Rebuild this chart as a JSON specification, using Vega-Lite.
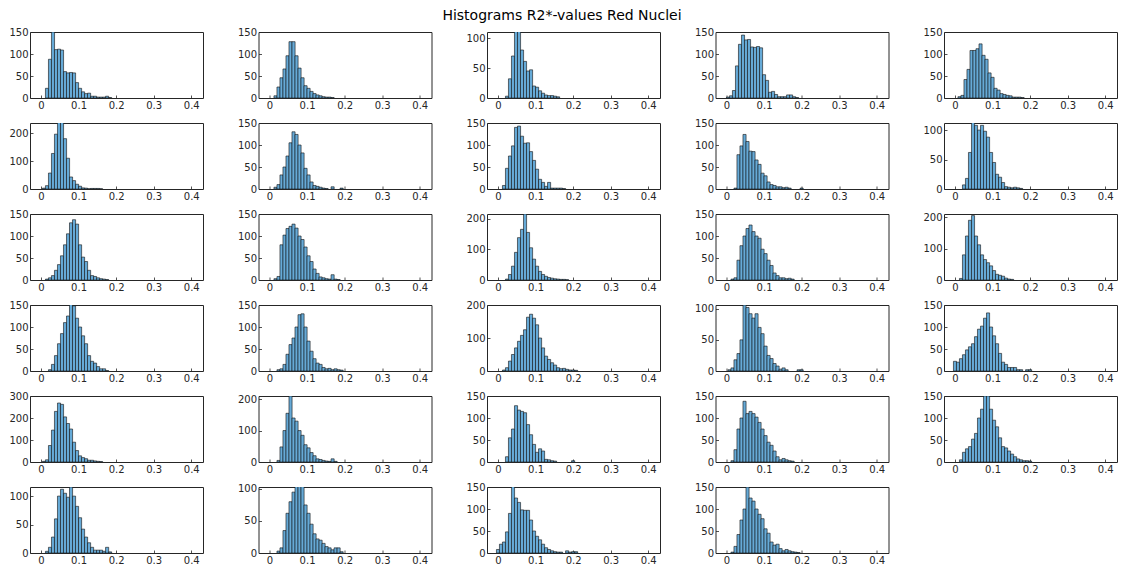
{
"$schema": "https://vega.github.io/schema/vega-lite/v6.json",
"background": "white",
"padding": {"left": 8, "top": 8, "right": 0, "bottom": 0},
"bounds": "flush",
"title": {"text": "Histograms R2*-values Red Nuclei", "font": "DejaVu Sans", "fontSize": 14, "fontWeight": "normal", "color": "#000000", "anchor": "middle", "dx": -1, "offset": 4},
"columns": 5,
"spacing": {"row": 25, "column": 55.5},
"data": {"values": [
{"p":1,"x":0.016,"c":22},{"p":1,"x":0.024,"c":88},{"p":1,"x":0.032,"c":150},{"p":1,"x":0.040,"c":110},{"p":1,"x":0.048,"c":111},{"p":1,"x":0.056,"c":109},{"p":1,"x":0.064,"c":60},{"p":1,"x":0.072,"c":57},{"p":1,"x":0.080,"c":58},{"p":1,"x":0.088,"c":57},{"p":1,"x":0.096,"c":35},{"p":1,"x":0.104,"c":22},{"p":1,"x":0.112,"c":14},{"p":1,"x":0.120,"c":10},{"p":1,"x":0.128,"c":11},{"p":1,"x":0.136,"c":4},{"p":1,"x":0.144,"c":4},{"p":1,"x":0.152,"c":2},{"p":1,"x":0.160,"c":2},{"p":1,"x":0.168,"c":2},{"p":1,"x":0.176,"c":4},{"p":1,"x":0.184,"c":1},
{"p":2,"x":0.016,"c":5},{"p":2,"x":0.024,"c":25},{"p":2,"x":0.032,"c":46},{"p":2,"x":0.040,"c":66},{"p":2,"x":0.048,"c":96},{"p":2,"x":0.056,"c":128},{"p":2,"x":0.064,"c":128},{"p":2,"x":0.072,"c":96},{"p":2,"x":0.080,"c":68},{"p":2,"x":0.088,"c":46},{"p":2,"x":0.096,"c":28},{"p":2,"x":0.104,"c":22},{"p":2,"x":0.112,"c":15},{"p":2,"x":0.120,"c":10},{"p":2,"x":0.128,"c":7},{"p":2,"x":0.136,"c":5},{"p":2,"x":0.144,"c":3},{"p":2,"x":0.152,"c":2},{"p":2,"x":0.160,"c":2},{"p":2,"x":0.168,"c":1},
{"p":3,"x":0.024,"c":3},{"p":3,"x":0.032,"c":32},{"p":3,"x":0.040,"c":70},{"p":3,"x":0.048,"c":112},{"p":3,"x":0.056,"c":112},{"p":3,"x":0.064,"c":80},{"p":3,"x":0.072,"c":61},{"p":3,"x":0.080,"c":45},{"p":3,"x":0.088,"c":47},{"p":3,"x":0.096,"c":20},{"p":3,"x":0.104,"c":18},{"p":3,"x":0.112,"c":12},{"p":3,"x":0.120,"c":8},{"p":3,"x":0.128,"c":5},{"p":3,"x":0.136,"c":4},{"p":3,"x":0.144,"c":4},{"p":3,"x":0.152,"c":3},{"p":3,"x":0.160,"c":2},
{"p":4,"x":0.004,"c":2},{"p":4,"x":0.012,"c":5},{"p":4,"x":0.020,"c":17},{"p":4,"x":0.028,"c":73},{"p":4,"x":0.036,"c":122},{"p":4,"x":0.044,"c":143},{"p":4,"x":0.052,"c":132},{"p":4,"x":0.060,"c":133},{"p":4,"x":0.068,"c":116},{"p":4,"x":0.076,"c":115},{"p":4,"x":0.084,"c":117},{"p":4,"x":0.092,"c":114},{"p":4,"x":0.100,"c":53},{"p":4,"x":0.108,"c":40},{"p":4,"x":0.116,"c":13},{"p":4,"x":0.124,"c":15},{"p":4,"x":0.132,"c":8},{"p":4,"x":0.140,"c":3},{"p":4,"x":0.148,"c":3},{"p":4,"x":0.156,"c":3},{"p":4,"x":0.164,"c":7},{"p":4,"x":0.172,"c":7},{"p":4,"x":0.180,"c":3},{"p":4,"x":0.188,"c":1},
{"p":5,"x":0.012,"c":3},{"p":5,"x":0.020,"c":6},{"p":5,"x":0.028,"c":42},{"p":5,"x":0.036,"c":65},{"p":5,"x":0.044,"c":108},{"p":5,"x":0.052,"c":108},{"p":5,"x":0.060,"c":112},{"p":5,"x":0.068,"c":123},{"p":5,"x":0.076,"c":97},{"p":5,"x":0.084,"c":88},{"p":5,"x":0.092,"c":57},{"p":5,"x":0.100,"c":47},{"p":5,"x":0.108,"c":22},{"p":5,"x":0.116,"c":18},{"p":5,"x":0.124,"c":10},{"p":5,"x":0.132,"c":8},{"p":5,"x":0.140,"c":6},{"p":5,"x":0.148,"c":5},{"p":5,"x":0.156,"c":2},{"p":5,"x":0.164,"c":2},{"p":5,"x":0.172,"c":2},{"p":5,"x":0.180,"c":1},
{"p":6,"x":0.008,"c":3},{"p":6,"x":0.016,"c":12},{"p":6,"x":0.024,"c":57},{"p":6,"x":0.032,"c":127},{"p":6,"x":0.040,"c":196},{"p":6,"x":0.048,"c":240},{"p":6,"x":0.056,"c":240},{"p":6,"x":0.064,"c":180},{"p":6,"x":0.072,"c":110},{"p":6,"x":0.080,"c":43},{"p":6,"x":0.088,"c":30},{"p":6,"x":0.096,"c":17},{"p":6,"x":0.104,"c":10},{"p":6,"x":0.112,"c":4},{"p":6,"x":0.120,"c":3},{"p":6,"x":0.128,"c":1},{"p":6,"x":0.136,"c":2},{"p":6,"x":0.144,"c":2},{"p":6,"x":0.152,"c":2},{"p":6,"x":0.160,"c":1},
{"p":7,"x":0.016,"c":4},{"p":7,"x":0.024,"c":10},{"p":7,"x":0.032,"c":32},{"p":7,"x":0.040,"c":50},{"p":7,"x":0.048,"c":75},{"p":7,"x":0.056,"c":105},{"p":7,"x":0.064,"c":130},{"p":7,"x":0.072,"c":124},{"p":7,"x":0.080,"c":100},{"p":7,"x":0.088,"c":82},{"p":7,"x":0.096,"c":47},{"p":7,"x":0.104,"c":32},{"p":7,"x":0.112,"c":16},{"p":7,"x":0.120,"c":8},{"p":7,"x":0.128,"c":6},{"p":7,"x":0.136,"c":4},{"p":7,"x":0.144,"c":2},{"p":7,"x":0.152,"c":1},{"p":7,"x":0.168,"c":5},{"p":7,"x":0.192,"c":2},
{"p":8,"x":0.016,"c":8},{"p":8,"x":0.024,"c":47},{"p":8,"x":0.032,"c":75},{"p":8,"x":0.040,"c":98},{"p":8,"x":0.048,"c":140},{"p":8,"x":0.056,"c":143},{"p":8,"x":0.064,"c":120},{"p":8,"x":0.072,"c":104},{"p":8,"x":0.080,"c":105},{"p":8,"x":0.088,"c":85},{"p":8,"x":0.096,"c":65},{"p":8,"x":0.104,"c":45},{"p":8,"x":0.112,"c":22},{"p":8,"x":0.120,"c":15},{"p":8,"x":0.128,"c":6},{"p":8,"x":0.136,"c":15},{"p":8,"x":0.144,"c":2},{"p":8,"x":0.152,"c":2},{"p":8,"x":0.160,"c":2},{"p":8,"x":0.168,"c":2},{"p":8,"x":0.176,"c":1},
{"p":9,"x":0.024,"c":2},{"p":9,"x":0.032,"c":78},{"p":9,"x":0.040,"c":98},{"p":9,"x":0.048,"c":124},{"p":9,"x":0.056,"c":108},{"p":9,"x":0.064,"c":86},{"p":9,"x":0.072,"c":85},{"p":9,"x":0.080,"c":66},{"p":9,"x":0.088,"c":56},{"p":9,"x":0.096,"c":36},{"p":9,"x":0.104,"c":30},{"p":9,"x":0.112,"c":16},{"p":9,"x":0.120,"c":10},{"p":9,"x":0.128,"c":8},{"p":9,"x":0.136,"c":5},{"p":9,"x":0.144,"c":5},{"p":9,"x":0.152,"c":3},{"p":9,"x":0.160,"c":4},{"p":9,"x":0.168,"c":2},{"p":9,"x":0.200,"c":2},
{"p":10,"x":0.024,"c":7},{"p":10,"x":0.032,"c":18},{"p":10,"x":0.040,"c":62},{"p":10,"x":0.048,"c":113},{"p":10,"x":0.056,"c":108},{"p":10,"x":0.064,"c":100},{"p":10,"x":0.072,"c":108},{"p":10,"x":0.080,"c":98},{"p":10,"x":0.088,"c":88},{"p":10,"x":0.096,"c":62},{"p":10,"x":0.104,"c":45},{"p":10,"x":0.112,"c":25},{"p":10,"x":0.120,"c":20},{"p":10,"x":0.128,"c":11},{"p":10,"x":0.136,"c":4},{"p":10,"x":0.144,"c":3},{"p":10,"x":0.152,"c":2},{"p":10,"x":0.160,"c":3},{"p":10,"x":0.168,"c":2},{"p":10,"x":0.176,"c":1},
{"p":11,"x":0.016,"c":2},{"p":11,"x":0.024,"c":5},{"p":11,"x":0.032,"c":10},{"p":11,"x":0.040,"c":22},{"p":11,"x":0.048,"c":35},{"p":11,"x":0.056,"c":55},{"p":11,"x":0.064,"c":80},{"p":11,"x":0.072,"c":105},{"p":11,"x":0.080,"c":130},{"p":11,"x":0.088,"c":137},{"p":11,"x":0.096,"c":127},{"p":11,"x":0.104,"c":80},{"p":11,"x":0.112,"c":52},{"p":11,"x":0.120,"c":42},{"p":11,"x":0.128,"c":22},{"p":11,"x":0.136,"c":10},{"p":11,"x":0.144,"c":8},{"p":11,"x":0.152,"c":5},{"p":11,"x":0.160,"c":3},{"p":11,"x":0.168,"c":2},{"p":11,"x":0.176,"c":1},
{"p":12,"x":0.016,"c":3},{"p":12,"x":0.024,"c":8},{"p":12,"x":0.032,"c":80},{"p":12,"x":0.040,"c":102},{"p":12,"x":0.048,"c":117},{"p":12,"x":0.056,"c":122},{"p":12,"x":0.064,"c":127},{"p":12,"x":0.072,"c":118},{"p":12,"x":0.080,"c":100},{"p":12,"x":0.088,"c":92},{"p":12,"x":0.096,"c":75},{"p":12,"x":0.104,"c":55},{"p":12,"x":0.112,"c":42},{"p":12,"x":0.120,"c":25},{"p":12,"x":0.128,"c":15},{"p":12,"x":0.136,"c":7},{"p":12,"x":0.144,"c":5},{"p":12,"x":0.152,"c":3},{"p":12,"x":0.160,"c":2},{"p":12,"x":0.168,"c":12},{"p":12,"x":0.176,"c":2},{"p":12,"x":0.184,"c":1},
{"p":13,"x":0.024,"c":3},{"p":13,"x":0.032,"c":18},{"p":13,"x":0.040,"c":45},{"p":13,"x":0.048,"c":90},{"p":13,"x":0.056,"c":138},{"p":13,"x":0.064,"c":165},{"p":13,"x":0.072,"c":215},{"p":13,"x":0.080,"c":155},{"p":13,"x":0.088,"c":105},{"p":13,"x":0.096,"c":68},{"p":13,"x":0.104,"c":45},{"p":13,"x":0.112,"c":28},{"p":13,"x":0.120,"c":18},{"p":13,"x":0.128,"c":12},{"p":13,"x":0.136,"c":8},{"p":13,"x":0.144,"c":6},{"p":13,"x":0.152,"c":4},{"p":13,"x":0.160,"c":3},{"p":13,"x":0.168,"c":2},{"p":13,"x":0.176,"c":2},{"p":13,"x":0.184,"c":1},
{"p":14,"x":0.016,"c":2},{"p":14,"x":0.024,"c":5},{"p":14,"x":0.032,"c":45},{"p":14,"x":0.040,"c":78},{"p":14,"x":0.048,"c":100},{"p":14,"x":0.056,"c":117},{"p":14,"x":0.064,"c":125},{"p":14,"x":0.072,"c":110},{"p":14,"x":0.080,"c":100},{"p":14,"x":0.088,"c":95},{"p":14,"x":0.096,"c":70},{"p":14,"x":0.104,"c":60},{"p":14,"x":0.112,"c":45},{"p":14,"x":0.120,"c":33},{"p":14,"x":0.128,"c":16},{"p":14,"x":0.136,"c":10},{"p":14,"x":0.144,"c":5},{"p":14,"x":0.152,"c":5},{"p":14,"x":0.160,"c":3},{"p":14,"x":0.168,"c":4},{"p":14,"x":0.176,"c":2},
{"p":15,"x":0.016,"c":5},{"p":15,"x":0.024,"c":80},{"p":15,"x":0.032,"c":140},{"p":15,"x":0.040,"c":190},{"p":15,"x":0.048,"c":205},{"p":15,"x":0.056,"c":140},{"p":15,"x":0.064,"c":112},{"p":15,"x":0.072,"c":80},{"p":15,"x":0.080,"c":65},{"p":15,"x":0.088,"c":55},{"p":15,"x":0.096,"c":45},{"p":15,"x":0.104,"c":30},{"p":15,"x":0.112,"c":18},{"p":15,"x":0.120,"c":15},{"p":15,"x":0.128,"c":12},{"p":15,"x":0.136,"c":6},{"p":15,"x":0.144,"c":3},{"p":15,"x":0.152,"c":2},
{"p":16,"x":0.024,"c":3},{"p":16,"x":0.032,"c":15},{"p":16,"x":0.040,"c":35},{"p":16,"x":0.048,"c":62},{"p":16,"x":0.056,"c":85},{"p":16,"x":0.064,"c":110},{"p":16,"x":0.072,"c":125},{"p":16,"x":0.080,"c":152},{"p":16,"x":0.088,"c":148},{"p":16,"x":0.096,"c":120},{"p":16,"x":0.104,"c":100},{"p":16,"x":0.112,"c":80},{"p":16,"x":0.120,"c":62},{"p":16,"x":0.128,"c":35},{"p":16,"x":0.136,"c":22},{"p":16,"x":0.144,"c":18},{"p":16,"x":0.152,"c":10},{"p":16,"x":0.160,"c":5},{"p":16,"x":0.168,"c":5},{"p":16,"x":0.176,"c":1},
{"p":17,"x":0.024,"c":3},{"p":17,"x":0.032,"c":5},{"p":17,"x":0.040,"c":15},{"p":17,"x":0.048,"c":38},{"p":17,"x":0.056,"c":60},{"p":17,"x":0.064,"c":75},{"p":17,"x":0.072,"c":100},{"p":17,"x":0.080,"c":128},{"p":17,"x":0.088,"c":130},{"p":17,"x":0.096,"c":100},{"p":17,"x":0.104,"c":68},{"p":17,"x":0.112,"c":45},{"p":17,"x":0.120,"c":28},{"p":17,"x":0.128,"c":18},{"p":17,"x":0.136,"c":15},{"p":17,"x":0.144,"c":8},{"p":17,"x":0.152,"c":5},{"p":17,"x":0.160,"c":6},{"p":17,"x":0.168,"c":3},{"p":17,"x":0.176,"c":5},{"p":17,"x":0.184,"c":3},{"p":17,"x":0.192,"c":2},
{"p":18,"x":0.016,"c":3},{"p":18,"x":0.024,"c":10},{"p":18,"x":0.032,"c":30},{"p":18,"x":0.040,"c":50},{"p":18,"x":0.048,"c":70},{"p":18,"x":0.056,"c":90},{"p":18,"x":0.064,"c":108},{"p":18,"x":0.072,"c":125},{"p":18,"x":0.080,"c":163},{"p":18,"x":0.088,"c":172},{"p":18,"x":0.096,"c":160},{"p":18,"x":0.104,"c":140},{"p":18,"x":0.112,"c":100},{"p":18,"x":0.120,"c":70},{"p":18,"x":0.128,"c":45},{"p":18,"x":0.136,"c":35},{"p":18,"x":0.144,"c":25},{"p":18,"x":0.152,"c":18},{"p":18,"x":0.160,"c":10},{"p":18,"x":0.168,"c":7},{"p":18,"x":0.176,"c":8},{"p":18,"x":0.184,"c":5},{"p":18,"x":0.192,"c":3},{"p":18,"x":0.200,"c":3},{"p":18,"x":0.208,"c":2},
{"p":19,"x":0.008,"c":2},{"p":19,"x":0.016,"c":5},{"p":19,"x":0.024,"c":18},{"p":19,"x":0.032,"c":28},{"p":19,"x":0.040,"c":50},{"p":19,"x":0.048,"c":106},{"p":19,"x":0.056,"c":102},{"p":19,"x":0.064,"c":92},{"p":19,"x":0.072,"c":85},{"p":19,"x":0.080,"c":92},{"p":19,"x":0.088,"c":70},{"p":19,"x":0.096,"c":60},{"p":19,"x":0.104,"c":40},{"p":19,"x":0.112,"c":25},{"p":19,"x":0.120,"c":20},{"p":19,"x":0.128,"c":12},{"p":19,"x":0.136,"c":8},{"p":19,"x":0.144,"c":3},{"p":19,"x":0.152,"c":5},{"p":19,"x":0.160,"c":2},{"p":19,"x":0.192,"c":2},{"p":19,"x":0.200,"c":2},
{"p":20,"x":0.000,"c":22},{"p":20,"x":0.008,"c":20},{"p":20,"x":0.016,"c":28},{"p":20,"x":0.024,"c":37},{"p":20,"x":0.032,"c":48},{"p":20,"x":0.040,"c":55},{"p":20,"x":0.048,"c":62},{"p":20,"x":0.056,"c":78},{"p":20,"x":0.064,"c":95},{"p":20,"x":0.072,"c":102},{"p":20,"x":0.080,"c":120},{"p":20,"x":0.088,"c":132},{"p":20,"x":0.096,"c":100},{"p":20,"x":0.104,"c":80},{"p":20,"x":0.112,"c":62},{"p":20,"x":0.120,"c":40},{"p":20,"x":0.128,"c":20},{"p":20,"x":0.136,"c":15},{"p":20,"x":0.144,"c":8},{"p":20,"x":0.152,"c":8},{"p":20,"x":0.160,"c":8},{"p":20,"x":0.168,"c":3},{"p":20,"x":0.176,"c":3},{"p":20,"x":0.192,"c":3},{"p":20,"x":0.200,"c":3},
{"p":21,"x":0.008,"c":3},{"p":21,"x":0.016,"c":10},{"p":21,"x":0.024,"c":75},{"p":21,"x":0.032,"c":145},{"p":21,"x":0.040,"c":230},{"p":21,"x":0.048,"c":268},{"p":21,"x":0.056,"c":262},{"p":21,"x":0.064,"c":205},{"p":21,"x":0.072,"c":175},{"p":21,"x":0.080,"c":150},{"p":21,"x":0.088,"c":90},{"p":21,"x":0.096,"c":52},{"p":21,"x":0.104,"c":28},{"p":21,"x":0.112,"c":20},{"p":21,"x":0.120,"c":15},{"p":21,"x":0.128,"c":8},{"p":21,"x":0.136,"c":8},{"p":21,"x":0.144,"c":5},{"p":21,"x":0.152,"c":3},{"p":21,"x":0.160,"c":2},
{"p":22,"x":0.024,"c":5},{"p":22,"x":0.032,"c":48},{"p":22,"x":0.040,"c":100},{"p":22,"x":0.048,"c":155},{"p":22,"x":0.056,"c":210},{"p":22,"x":0.064,"c":140},{"p":22,"x":0.072,"c":130},{"p":22,"x":0.080,"c":100},{"p":22,"x":0.088,"c":85},{"p":22,"x":0.096,"c":55},{"p":22,"x":0.104,"c":45},{"p":22,"x":0.112,"c":30},{"p":22,"x":0.120,"c":20},{"p":22,"x":0.128,"c":10},{"p":22,"x":0.136,"c":8},{"p":22,"x":0.144,"c":5},{"p":22,"x":0.152,"c":3},{"p":22,"x":0.160,"c":2},{"p":22,"x":0.168,"c":10},{"p":22,"x":0.176,"c":2},
{"p":23,"x":0.024,"c":12},{"p":23,"x":0.032,"c":55},{"p":23,"x":0.040,"c":75},{"p":23,"x":0.048,"c":128},{"p":23,"x":0.056,"c":118},{"p":23,"x":0.064,"c":115},{"p":23,"x":0.072,"c":112},{"p":23,"x":0.080,"c":85},{"p":23,"x":0.088,"c":62},{"p":23,"x":0.096,"c":40},{"p":23,"x":0.104,"c":22},{"p":23,"x":0.112,"c":30},{"p":23,"x":0.120,"c":25},{"p":23,"x":0.128,"c":6},{"p":23,"x":0.136,"c":5},{"p":23,"x":0.144,"c":3},{"p":23,"x":0.152,"c":2},{"p":23,"x":0.200,"c":3},
{"p":24,"x":0.016,"c":3},{"p":24,"x":0.024,"c":28},{"p":24,"x":0.032,"c":75},{"p":24,"x":0.040,"c":100},{"p":24,"x":0.048,"c":138},{"p":24,"x":0.056,"c":110},{"p":24,"x":0.064,"c":115},{"p":24,"x":0.072,"c":110},{"p":24,"x":0.080,"c":102},{"p":24,"x":0.088,"c":90},{"p":24,"x":0.096,"c":75},{"p":24,"x":0.104,"c":60},{"p":24,"x":0.112,"c":45},{"p":24,"x":0.120,"c":38},{"p":24,"x":0.128,"c":25},{"p":24,"x":0.136,"c":12},{"p":24,"x":0.144,"c":5},{"p":24,"x":0.152,"c":8},{"p":24,"x":0.160,"c":5},{"p":24,"x":0.168,"c":3},{"p":24,"x":0.176,"c":2},
{"p":25,"x":0.016,"c":5},{"p":25,"x":0.024,"c":22},{"p":25,"x":0.032,"c":30},{"p":25,"x":0.040,"c":35},{"p":25,"x":0.048,"c":52},{"p":25,"x":0.056,"c":65},{"p":25,"x":0.064,"c":100},{"p":25,"x":0.072,"c":120},{"p":25,"x":0.080,"c":150},{"p":25,"x":0.088,"c":150},{"p":25,"x":0.096,"c":120},{"p":25,"x":0.104,"c":95},{"p":25,"x":0.112,"c":80},{"p":25,"x":0.120,"c":55},{"p":25,"x":0.128,"c":35},{"p":25,"x":0.136,"c":32},{"p":25,"x":0.144,"c":25},{"p":25,"x":0.152,"c":18},{"p":25,"x":0.160,"c":12},{"p":25,"x":0.168,"c":7},{"p":25,"x":0.176,"c":5},{"p":25,"x":0.184,"c":3},{"p":25,"x":0.192,"c":3},{"p":25,"x":0.200,"c":2},
{"p":26,"x":0.016,"c":3},{"p":26,"x":0.024,"c":10},{"p":26,"x":0.032,"c":28},{"p":26,"x":0.040,"c":60},{"p":26,"x":0.048,"c":100},{"p":26,"x":0.056,"c":112},{"p":26,"x":0.064,"c":105},{"p":26,"x":0.072,"c":98},{"p":26,"x":0.080,"c":116},{"p":26,"x":0.088,"c":100},{"p":26,"x":0.096,"c":82},{"p":26,"x":0.104,"c":62},{"p":26,"x":0.112,"c":42},{"p":26,"x":0.120,"c":28},{"p":26,"x":0.128,"c":18},{"p":26,"x":0.136,"c":10},{"p":26,"x":0.144,"c":5},{"p":26,"x":0.152,"c":5},{"p":26,"x":0.160,"c":5},{"p":26,"x":0.168,"c":3},{"p":26,"x":0.176,"c":10},{"p":26,"x":0.184,"c":2},
{"p":27,"x":0.024,"c":3},{"p":27,"x":0.032,"c":8},{"p":27,"x":0.040,"c":35},{"p":27,"x":0.048,"c":62},{"p":27,"x":0.056,"c":80},{"p":27,"x":0.064,"c":95},{"p":27,"x":0.072,"c":104},{"p":27,"x":0.080,"c":104},{"p":27,"x":0.088,"c":104},{"p":27,"x":0.096,"c":75},{"p":27,"x":0.104,"c":62},{"p":27,"x":0.112,"c":45},{"p":27,"x":0.120,"c":30},{"p":27,"x":0.128,"c":22},{"p":27,"x":0.136,"c":20},{"p":27,"x":0.144,"c":15},{"p":27,"x":0.152,"c":10},{"p":27,"x":0.160,"c":8},{"p":27,"x":0.168,"c":5},{"p":27,"x":0.176,"c":8},{"p":27,"x":0.184,"c":8},{"p":27,"x":0.192,"c":2},
{"p":28,"x":0.000,"c":8},{"p":28,"x":0.008,"c":20},{"p":28,"x":0.016,"c":25},{"p":28,"x":0.024,"c":48},{"p":28,"x":0.032,"c":90},{"p":28,"x":0.040,"c":152},{"p":28,"x":0.048,"c":125},{"p":28,"x":0.056,"c":115},{"p":28,"x":0.064,"c":98},{"p":28,"x":0.072,"c":97},{"p":28,"x":0.080,"c":97},{"p":28,"x":0.088,"c":75},{"p":28,"x":0.096,"c":50},{"p":28,"x":0.104,"c":38},{"p":28,"x":0.112,"c":30},{"p":28,"x":0.120,"c":20},{"p":28,"x":0.128,"c":12},{"p":28,"x":0.136,"c":8},{"p":28,"x":0.144,"c":5},{"p":28,"x":0.152,"c":3},{"p":28,"x":0.160,"c":2},{"p":28,"x":0.168,"c":2},{"p":28,"x":0.184,"c":5},{"p":28,"x":0.192,"c":2},{"p":28,"x":0.200,"c":3},{"p":28,"x":0.208,"c":3},
{"p":29,"x":0.016,"c":2},{"p":29,"x":0.024,"c":15},{"p":29,"x":0.032,"c":42},{"p":29,"x":0.040,"c":75},{"p":29,"x":0.048,"c":100},{"p":29,"x":0.056,"c":150},{"p":29,"x":0.064,"c":125},{"p":29,"x":0.072,"c":118},{"p":29,"x":0.080,"c":100},{"p":29,"x":0.088,"c":88},{"p":29,"x":0.096,"c":78},{"p":29,"x":0.104,"c":55},{"p":29,"x":0.112,"c":45},{"p":29,"x":0.120,"c":25},{"p":29,"x":0.128,"c":18},{"p":29,"x":0.136,"c":20},{"p":29,"x":0.144,"c":10},{"p":29,"x":0.152,"c":5},{"p":29,"x":0.160,"c":8},{"p":29,"x":0.168,"c":5},{"p":29,"x":0.176,"c":3},{"p":29,"x":0.184,"c":2},{"p":29,"x":0.192,"c":1}
]},
"concat": [
{"transform":[{"filter":"datum.p==1"}],"mark":{"type":"bar","clip":true},"encoding":{"x":{"field":"x","type":"quantitative","title":null,"scale":{"domain":[-0.021,0.423],"nice":false},"axis":{"values":[0,0.1,0.2,0.3,0.4],"format":"~g"}},"y":{"field":"c","type":"quantitative","title":null,"scale":{"domain":[0,150],"nice":false},"axis":{"values":[0,50,100,150]}}}},
{"transform":[{"filter":"datum.p==2"}],"mark":{"type":"bar","clip":true},"encoding":{"x":{"field":"x","type":"quantitative","title":null,"scale":{"domain":[-0.021,0.423],"nice":false},"axis":{"values":[0,0.1,0.2,0.3,0.4],"format":"~g"}},"y":{"field":"c","type":"quantitative","title":null,"scale":{"domain":[0,150],"nice":false},"axis":{"values":[0,50,100,150]}}}},
{"transform":[{"filter":"datum.p==3"}],"mark":{"type":"bar","clip":true},"encoding":{"x":{"field":"x","type":"quantitative","title":null,"scale":{"domain":[-0.021,0.423],"nice":false},"axis":{"values":[0,0.1,0.2,0.3,0.4],"format":"~g"}},"y":{"field":"c","type":"quantitative","title":null,"scale":{"domain":[0,110],"nice":false},"axis":{"values":[0,50,100]}}}},
{"transform":[{"filter":"datum.p==4"}],"mark":{"type":"bar","clip":true},"encoding":{"x":{"field":"x","type":"quantitative","title":null,"scale":{"domain":[-0.021,0.423],"nice":false},"axis":{"values":[0,0.1,0.2,0.3,0.4],"format":"~g"}},"y":{"field":"c","type":"quantitative","title":null,"scale":{"domain":[0,150],"nice":false},"axis":{"values":[0,50,100,150]}}}},
{"transform":[{"filter":"datum.p==5"}],"mark":{"type":"bar","clip":true},"encoding":{"x":{"field":"x","type":"quantitative","title":null,"scale":{"domain":[-0.021,0.423],"nice":false},"axis":{"values":[0,0.1,0.2,0.3,0.4],"format":"~g"}},"y":{"field":"c","type":"quantitative","title":null,"scale":{"domain":[0,150],"nice":false},"axis":{"values":[0,50,100,150]}}}},
{"transform":[{"filter":"datum.p==6"}],"mark":{"type":"bar","clip":true},"encoding":{"x":{"field":"x","type":"quantitative","title":null,"scale":{"domain":[-0.021,0.423],"nice":false},"axis":{"values":[0,0.1,0.2,0.3,0.4],"format":"~g"}},"y":{"field":"c","type":"quantitative","title":null,"scale":{"domain":[0,236],"nice":false},"axis":{"values":[0,100,200]}}}},
{"transform":[{"filter":"datum.p==7"}],"mark":{"type":"bar","clip":true},"encoding":{"x":{"field":"x","type":"quantitative","title":null,"scale":{"domain":[-0.021,0.423],"nice":false},"axis":{"values":[0,0.1,0.2,0.3,0.4],"format":"~g"}},"y":{"field":"c","type":"quantitative","title":null,"scale":{"domain":[0,150],"nice":false},"axis":{"values":[0,50,100,150]}}}},
{"transform":[{"filter":"datum.p==8"}],"mark":{"type":"bar","clip":true},"encoding":{"x":{"field":"x","type":"quantitative","title":null,"scale":{"domain":[-0.021,0.423],"nice":false},"axis":{"values":[0,0.1,0.2,0.3,0.4],"format":"~g"}},"y":{"field":"c","type":"quantitative","title":null,"scale":{"domain":[0,150],"nice":false},"axis":{"values":[0,50,100,150]}}}},
{"transform":[{"filter":"datum.p==9"}],"mark":{"type":"bar","clip":true},"encoding":{"x":{"field":"x","type":"quantitative","title":null,"scale":{"domain":[-0.021,0.423],"nice":false},"axis":{"values":[0,0.1,0.2,0.3,0.4],"format":"~g"}},"y":{"field":"c","type":"quantitative","title":null,"scale":{"domain":[0,150],"nice":false},"axis":{"values":[0,50,100,150]}}}},
{"transform":[{"filter":"datum.p==10"}],"mark":{"type":"bar","clip":true},"encoding":{"x":{"field":"x","type":"quantitative","title":null,"scale":{"domain":[-0.021,0.423],"nice":false},"axis":{"values":[0,0.1,0.2,0.3,0.4],"format":"~g"}},"y":{"field":"c","type":"quantitative","title":null,"scale":{"domain":[0,112],"nice":false},"axis":{"values":[0,50,100]}}}},
{"transform":[{"filter":"datum.p==11"}],"mark":{"type":"bar","clip":true},"encoding":{"x":{"field":"x","type":"quantitative","title":null,"scale":{"domain":[-0.021,0.423],"nice":false},"axis":{"values":[0,0.1,0.2,0.3,0.4],"format":"~g"}},"y":{"field":"c","type":"quantitative","title":null,"scale":{"domain":[0,150],"nice":false},"axis":{"values":[0,50,100,150]}}}},
{"transform":[{"filter":"datum.p==12"}],"mark":{"type":"bar","clip":true},"encoding":{"x":{"field":"x","type":"quantitative","title":null,"scale":{"domain":[-0.021,0.423],"nice":false},"axis":{"values":[0,0.1,0.2,0.3,0.4],"format":"~g"}},"y":{"field":"c","type":"quantitative","title":null,"scale":{"domain":[0,150],"nice":false},"axis":{"values":[0,50,100,150]}}}},
{"transform":[{"filter":"datum.p==13"}],"mark":{"type":"bar","clip":true},"encoding":{"x":{"field":"x","type":"quantitative","title":null,"scale":{"domain":[-0.021,0.423],"nice":false},"axis":{"values":[0,0.1,0.2,0.3,0.4],"format":"~g"}},"y":{"field":"c","type":"quantitative","title":null,"scale":{"domain":[0,215],"nice":false},"axis":{"values":[0,100,200]}}}},
{"transform":[{"filter":"datum.p==14"}],"mark":{"type":"bar","clip":true},"encoding":{"x":{"field":"x","type":"quantitative","title":null,"scale":{"domain":[-0.021,0.423],"nice":false},"axis":{"values":[0,0.1,0.2,0.3,0.4],"format":"~g"}},"y":{"field":"c","type":"quantitative","title":null,"scale":{"domain":[0,150],"nice":false},"axis":{"values":[0,50,100,150]}}}},
{"transform":[{"filter":"datum.p==15"}],"mark":{"type":"bar","clip":true},"encoding":{"x":{"field":"x","type":"quantitative","title":null,"scale":{"domain":[-0.021,0.423],"nice":false},"axis":{"values":[0,0.1,0.2,0.3,0.4],"format":"~g"}},"y":{"field":"c","type":"quantitative","title":null,"scale":{"domain":[0,210],"nice":false},"axis":{"values":[0,100,200]}}}},
{"transform":[{"filter":"datum.p==16"}],"mark":{"type":"bar","clip":true},"encoding":{"x":{"field":"x","type":"quantitative","title":null,"scale":{"domain":[-0.021,0.423],"nice":false},"axis":{"values":[0,0.1,0.2,0.3,0.4],"format":"~g"}},"y":{"field":"c","type":"quantitative","title":null,"scale":{"domain":[0,150],"nice":false},"axis":{"values":[0,50,100,150]}}}},
{"transform":[{"filter":"datum.p==17"}],"mark":{"type":"bar","clip":true},"encoding":{"x":{"field":"x","type":"quantitative","title":null,"scale":{"domain":[-0.021,0.423],"nice":false},"axis":{"values":[0,0.1,0.2,0.3,0.4],"format":"~g"}},"y":{"field":"c","type":"quantitative","title":null,"scale":{"domain":[0,150],"nice":false},"axis":{"values":[0,50,100,150]}}}},
{"transform":[{"filter":"datum.p==18"}],"mark":{"type":"bar","clip":true},"encoding":{"x":{"field":"x","type":"quantitative","title":null,"scale":{"domain":[-0.021,0.423],"nice":false},"axis":{"values":[0,0.1,0.2,0.3,0.4],"format":"~g"}},"y":{"field":"c","type":"quantitative","title":null,"scale":{"domain":[0,200],"nice":false},"axis":{"values":[0,100,200]}}}},
{"transform":[{"filter":"datum.p==19"}],"mark":{"type":"bar","clip":true},"encoding":{"x":{"field":"x","type":"quantitative","title":null,"scale":{"domain":[-0.021,0.423],"nice":false},"axis":{"values":[0,0.1,0.2,0.3,0.4],"format":"~g"}},"y":{"field":"c","type":"quantitative","title":null,"scale":{"domain":[0,106],"nice":false},"axis":{"values":[0,50,100]}}}},
{"transform":[{"filter":"datum.p==20"}],"mark":{"type":"bar","clip":true},"encoding":{"x":{"field":"x","type":"quantitative","title":null,"scale":{"domain":[-0.021,0.423],"nice":false},"axis":{"values":[0,0.1,0.2,0.3,0.4],"format":"~g"}},"y":{"field":"c","type":"quantitative","title":null,"scale":{"domain":[0,150],"nice":false},"axis":{"values":[0,50,100,150]}}}},
{"transform":[{"filter":"datum.p==21"}],"mark":{"type":"bar","clip":true},"encoding":{"x":{"field":"x","type":"quantitative","title":null,"scale":{"domain":[-0.021,0.423],"nice":false},"axis":{"values":[0,0.1,0.2,0.3,0.4],"format":"~g"}},"y":{"field":"c","type":"quantitative","title":null,"scale":{"domain":[0,300],"nice":false},"axis":{"values":[0,100,200,300]}}}},
{"transform":[{"filter":"datum.p==22"}],"mark":{"type":"bar","clip":true},"encoding":{"x":{"field":"x","type":"quantitative","title":null,"scale":{"domain":[-0.021,0.423],"nice":false},"axis":{"values":[0,0.1,0.2,0.3,0.4],"format":"~g"}},"y":{"field":"c","type":"quantitative","title":null,"scale":{"domain":[0,210],"nice":false},"axis":{"values":[0,100,200]}}}},
{"transform":[{"filter":"datum.p==23"}],"mark":{"type":"bar","clip":true},"encoding":{"x":{"field":"x","type":"quantitative","title":null,"scale":{"domain":[-0.021,0.423],"nice":false},"axis":{"values":[0,0.1,0.2,0.3,0.4],"format":"~g"}},"y":{"field":"c","type":"quantitative","title":null,"scale":{"domain":[0,150],"nice":false},"axis":{"values":[0,50,100,150]}}}},
{"transform":[{"filter":"datum.p==24"}],"mark":{"type":"bar","clip":true},"encoding":{"x":{"field":"x","type":"quantitative","title":null,"scale":{"domain":[-0.021,0.423],"nice":false},"axis":{"values":[0,0.1,0.2,0.3,0.4],"format":"~g"}},"y":{"field":"c","type":"quantitative","title":null,"scale":{"domain":[0,150],"nice":false},"axis":{"values":[0,50,100,150]}}}},
{"transform":[{"filter":"datum.p==25"}],"mark":{"type":"bar","clip":true},"encoding":{"x":{"field":"x","type":"quantitative","title":null,"scale":{"domain":[-0.021,0.423],"nice":false},"axis":{"values":[0,0.1,0.2,0.3,0.4],"format":"~g"}},"y":{"field":"c","type":"quantitative","title":null,"scale":{"domain":[0,150],"nice":false},"axis":{"values":[0,50,100,150]}}}},
{"transform":[{"filter":"datum.p==26"}],"mark":{"type":"bar","clip":true},"encoding":{"x":{"field":"x","type":"quantitative","title":null,"scale":{"domain":[-0.021,0.423],"nice":false},"axis":{"values":[0,0.1,0.2,0.3,0.4],"format":"~g"}},"y":{"field":"c","type":"quantitative","title":null,"scale":{"domain":[0,116],"nice":false},"axis":{"values":[0,50,100]}}}},
{"transform":[{"filter":"datum.p==27"}],"mark":{"type":"bar","clip":true},"encoding":{"x":{"field":"x","type":"quantitative","title":null,"scale":{"domain":[-0.021,0.423],"nice":false},"axis":{"values":[0,0.1,0.2,0.3,0.4],"format":"~g"}},"y":{"field":"c","type":"quantitative","title":null,"scale":{"domain":[0,103],"nice":false},"axis":{"values":[0,50,100]}}}},
{"transform":[{"filter":"datum.p==28"}],"mark":{"type":"bar","clip":true},"encoding":{"x":{"field":"x","type":"quantitative","title":null,"scale":{"domain":[-0.021,0.423],"nice":false},"axis":{"values":[0,0.1,0.2,0.3,0.4],"format":"~g"}},"y":{"field":"c","type":"quantitative","title":null,"scale":{"domain":[0,150],"nice":false},"axis":{"values":[0,50,100,150]}}}},
{"transform":[{"filter":"datum.p==29"}],"mark":{"type":"bar","clip":true},"encoding":{"x":{"field":"x","type":"quantitative","title":null,"scale":{"domain":[-0.021,0.423],"nice":false},"axis":{"values":[0,0.1,0.2,0.3,0.4],"format":"~g"}},"y":{"field":"c","type":"quantitative","title":null,"scale":{"domain":[0,150],"nice":false},"axis":{"values":[0,50,100,150]}}}}
],
"config": {
"view": {"continuousWidth": 173, "continuousHeight": 66, "stroke": "#262626", "strokeWidth": 1},
"bar": {"fill": "#66aad7", "fillOpacity": 1, "stroke": "#111111", "strokeWidth": 0.6, "continuousBandSize": 3.1},
"axis": {"domain": false, "grid": false, "labelFont": "DejaVu Sans", "labelFontSize": 10, "labelColor": "#262626", "tickColor": "#262626", "tickSize": -3, "tickWidth": 0.8, "labelPadding": 5, "labelFlush": false}
}
}
